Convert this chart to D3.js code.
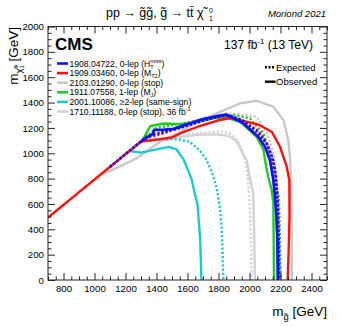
<!DOCTYPE html>
<html><head><meta charset="utf-8">
<script src="https://cdn.jsdelivr.net/npm/d3@7"></script>
<style>body{margin:0;background:#fff} text{font-family:"Liberation Sans",Arial,Helvetica,sans-serif;fill:#000}</style>
</head><body><svg id="c" width="341" height="327"></svg>
<script>
// ---- data (m_gluino, m_neutralino) in GeV ----
const xTickValues = [800,1000,1200,1400,1600,1800,2000,2200,2400];
const yTickValues = [0,200,400,600,800,1000,1200,1400,1600,1800,2000];

const obs2103 = [[1040,833],[1111,867],[1272,960],[1423,1091],[1552,1170],[1681,1256],[1810,1327],[1939,1393],[2046,1414],[2154,1367],[2219,1262],[2250,1104],[2261,972],[2268,789],[2272,400],[2273,0]];
const exp2103 = [[1300,1093],[1500,1185],[1700,1275],[1853,1314],[1982,1301],[2046,1288],[2089,1209],[2110,1170],[2154,1000],[2175,800],[2186,552],[2197,0]];
const obs1710 = [[1423,1091],[1529,1125],[1681,1148],[1800,1148],[1870,1135],[1920,1090],[1955,1000],[1982,946],[2003,800],[2024,684],[2030,400],[2035,0]];
const exp1710 = [[1600,1150],[1702,1162],[1810,1172],[1870,1160],[1910,1120],[1950,1030],[1971,946],[1990,800],[2003,552],[2010,300],[2014,0]];
const obs2001 = [[1225,1018],[1300,1005],[1400,1030],[1480,1050],[1530,1030],[1575,950],[1625,800],[1665,590],[1682,320],[1690,0]];
const exp2001 = [[1300,1093],[1450,1110],[1530,1112],[1613,1091],[1680,1020],[1723,946],[1760,840],[1790,720],[1810,560],[1820,420],[1827,200],[1831,0]];
const obs1911 = [[1310,1103],[1360,1215],[1450,1235],[1550,1230],[1640,1240],[1766,1275],[1853,1280],[1939,1250],[2046,1130],[2089,1030],[2110,880],[2121,815],[2143,710],[2154,605],[2156,300],[2158,0]];
const exp1911 = [[1330,1123],[1400,1200],[1550,1232],[1700,1265],[1800,1290],[1900,1300],[2003,1275],[2089,1157],[2143,972],[2165,789],[2190,650],[2197,300],[2201,0]];
const obs1909 = [[700,493],[1300,1093],[1420,1110],[1500,1125],[1560,1160],[1680,1215],[1800,1260],[1880,1278],[1960,1255],[2060,1225],[2143,1170],[2197,1051],[2240,894],[2257,789],[2258,500],[2252,200],[2246,0]];
const exp1909 = [[1200,993],[1330,1120],[1450,1160],[1600,1220],[1750,1275],[1850,1298],[1950,1262],[2060,1175],[2120,1060],[2160,900],[2178,700],[2186,300],[2189,0]];
const obs1908 = [[1300,1093],[1345,1130],[1375,1150],[1385,1185],[1450,1186],[1510,1192],[1600,1230],[1700,1270],[1800,1295],[1850,1305],[1900,1275],[1960,1236],[2057,1130],[2100,1051],[2132,946],[2154,789],[2165,650],[2174,500],[2180,300],[2183,0]];
const exp1908 = [[1100,893],[1300,1093],[1350,1140],[1450,1170],[1550,1200],[1680,1250],[1800,1290],[1870,1300],[1950,1262],[2050,1170],[2110,1080],[2150,960],[2170,820],[2182,600],[2188,300],[2192,0]];

// ---- layout ----
const L=48, R=327, T=26.5, B=280;
const svg=d3.select("#c");
const x=d3.scaleLinear().domain([700,2500]).range([L,R]);
const y=d3.scaleLinear().domain([0,2000]).range([B,T]);
const minorX=d3.range(700,2501,50).filter(v=>v%200!==0);
const minorY=d3.range(0,2001,50).filter(v=>v%200!==0);

svg.append("clipPath").attr("id","clip").append("rect").attr("x",L).attr("y",T).attr("width",R-L).attr("height",B-T);
const g=svg.append("g").attr("clip-path","url(#clip)");
const line=d3.line().x(d=>x(d[0])).y(d=>y(d[1]));

const series=[
 {d:obs2103,c:"#c8c8c8",dash:null,w:2.4},
 {d:exp2103,c:"#c8c8c8",dash:"2.2,2",w:2.4},
 {d:obs1710,c:"#d2d2d2",dash:null,w:2.4},
 {d:exp1710,c:"#d2d2d2",dash:"2.2,2",w:2.4},
 {d:obs2001,c:"#1fc9c9",dash:null,w:2.4},
 {d:exp2001,c:"#1fc9c9",dash:"2.2,2",w:2.4},
 {d:obs1911,c:"#22cc22",dash:null,w:2.4},
 {d:exp1911,c:"#22cc22",dash:"2.2,2",w:2.4},
 {d:obs1909,c:"#ff1010",dash:null,w:2.4},
 {d:exp1909,c:"#ff1010",dash:"2.2,2",w:2.4},
 {d:obs1908,c:"#1010ff",dash:null,w:2.8},
 {d:exp1908,c:"#1010ff",dash:"2.2,2",w:2.8}
];
series.forEach(s=>{
  g.append("path").attr("d",line(s.d)).attr("fill","none").attr("stroke",s.c)
   .attr("stroke-width",s.w).attr("stroke-dasharray",s.dash).attr("stroke-linejoin","round");
});

// ---- axes (ROOT style, inward ticks on all sides) ----
function styleAx(sel){sel.select(".domain").remove();sel.selectAll("line").attr("stroke","#222");sel.selectAll("text").style("font-size","9.7px").attr("fill","#222");}
const fmt=d3.format("d");
svg.append("g").attr("transform",`translate(0,${B})`).call(d3.axisBottom(x).tickValues(xTickValues).tickSize(-7).tickPadding(5).tickFormat(fmt)).call(styleAx);
svg.append("g").attr("transform",`translate(0,${B})`).call(d3.axisBottom(x).tickValues(minorX).tickSize(-3.5).tickFormat("")).call(styleAx);
svg.append("g").attr("transform",`translate(0,${T})`).call(d3.axisTop(x).tickValues(xTickValues).tickSize(-7).tickFormat("")).call(styleAx);
svg.append("g").attr("transform",`translate(0,${T})`).call(d3.axisTop(x).tickValues(minorX).tickSize(-3.5).tickFormat("")).call(styleAx);
svg.append("g").attr("transform",`translate(${L},0)`).call(d3.axisLeft(y).tickValues(yTickValues).tickSize(-7).tickPadding(4).tickFormat(fmt)).call(styleAx);
svg.append("g").attr("transform",`translate(${L},0)`).call(d3.axisLeft(y).tickValues(minorY).tickSize(-3.5).tickFormat("")).call(styleAx);
svg.append("g").attr("transform",`translate(${R},0)`).call(d3.axisRight(y).tickValues(yTickValues).tickSize(-7).tickFormat("")).call(styleAx);
svg.append("g").attr("transform",`translate(${R},0)`).call(d3.axisRight(y).tickValues(minorY).tickSize(-3.5).tickFormat("")).call(styleAx);
svg.append("rect").attr("x",L).attr("y",T).attr("width",R-L).attr("height",B-T).attr("fill","none").attr("stroke","#222").attr("stroke-width",1);

// ---- title ----
const title=svg.append("text").attr("x",106).attr("y",17).style("font-size","12.5px").text("pp \u2192 g\u0303g\u0303,  g\u0303 \u2192 tt\u0304 \u03C7\u0303");
const tb=title.node().getBBox();
svg.append("text").attr("x",tb.x+tb.width+0.5).attr("y",13).style("font-size","7px").text("0");
svg.append("text").attr("x",tb.x+tb.width+0.5).attr("y",20.5).style("font-size","7px").text("1");
svg.append("text").attr("x",326).attr("y",17).attr("text-anchor","end").style("font-size","9.5px").style("font-style","italic").text("Moriond 2021");

// ---- CMS / lumi ----
svg.append("text").attr("x",55).attr("y",49.5).style("font-size","17px").style("font-weight","bold").text("CMS");
const lumi=svg.append("text").attr("x",313).attr("y",49).attr("text-anchor","end").style("font-size","12px");
lumi.append("tspan").text("137 fb");
lumi.append("tspan").attr("dy",-5).style("font-size","8px").text("-1");
lumi.append("tspan").attr("dy",5).text(" (13 TeV)");

// ---- legend ----
const legNames=["1908.04722","1909.03460","2103.01290","1911.07558","2001.10086","1710.11188"];
const legColors=["#1010ff","#ff1010","#c8c8c8","#22cc22","#1fc9c9","#d2d2d2"];
const fs="8.6px";
legNames.forEach((nm,i)=>{
  const cy=63.5+i*9.6;
  svg.append("line").attr("x1",57).attr("x2",68).attr("y1",cy).attr("y2",cy).attr("stroke",legColors[i]).attr("stroke-width",2.6);
  const t=svg.append("text").attr("x",69.5).attr("y",cy+3).style("font-size",fs);
  if(i===0){t.append("tspan").text(nm+", 0-lep (H");
    t.append("tspan").attr("dy",2).style("font-size","5.5px").text("T");
    t.append("tspan").attr("dx",-3.5).attr("dy",-6).style("font-size","5.5px").text("miss");
    t.append("tspan").attr("dy",4).text(")");}
  else if(i===1){t.append("tspan").text(nm+", 0-lep (M");
    t.append("tspan").attr("dy",2).style("font-size","5.5px").text("T2");
    t.append("tspan").attr("dy",-2).text(")");}
  else if(i===2){t.text(nm+", 0-lep (stop)");}
  else if(i===3){t.append("tspan").text(nm+", 1-lep (M");
    t.append("tspan").attr("dy",2).style("font-size","5.5px").text("J");
    t.append("tspan").attr("dy",-2).text(")");}
  else if(i===4){t.text(nm+", \u22652-lep (same-sign)");}
  else {t.append("tspan").text(nm+", 0-lep (stop), 36 fb");
    t.append("tspan").attr("dy",-4).style("font-size","5.5px").text("-1");}
});
[["Expected","2,1.5",67.3],["Observed",null,81.7]].forEach(([lab,dash,cy])=>{
  svg.append("line").attr("x1",265).attr("x2",275.5).attr("y1",cy).attr("y2",cy).attr("stroke","#000").attr("stroke-width",2.4).attr("stroke-dasharray",dash);
  svg.append("text").attr("x",276).attr("y",cy+3.4).style("font-size","9.5px").text(lab);
});

// ---- axis titles ----
const xt=svg.append("text").attr("x",327).attr("y",316).attr("text-anchor","end").style("font-size","13.5px");
xt.append("tspan").text("m");
xt.append("tspan").attr("dy",3.5).style("font-size","9.5px").text("g\u0303");
xt.append("tspan").attr("dy",-3.5).text(" [GeV]");
const yt=svg.append("text").attr("transform","translate(18,27) rotate(-90)").attr("text-anchor","end").style("font-size","13.5px");
yt.append("tspan").text("m");
yt.append("tspan").attr("dy",3.5).style("font-size","9.5px").text("\u03C7\u0303");
yt.append("tspan").attr("dy",-4).style("font-size","6px").text("0");
yt.append("tspan").attr("dx",-3.4).attr("dy",6.5).style("font-size","6px").text("1");
yt.append("tspan").attr("dy",-6).text(" [GeV]");
</script></body></html>
